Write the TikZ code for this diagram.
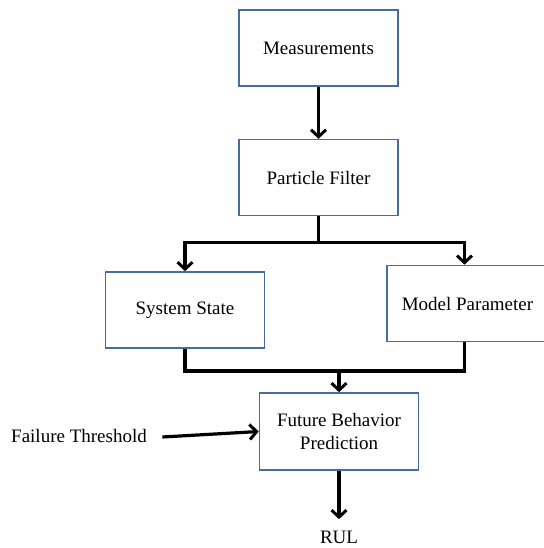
\documentclass[tikz,border=0pt]{standalone}
\usepackage{fontspec}
\setmainfont{Liberation Serif}
\usetikzlibrary{arrows.meta,positioning}
\definecolor{boxblue}{RGB}{72,108,160}

\begin{document}
\begin{tikzpicture}[x=1pt,y=-1pt,font=\fontsize{19}{22.5}\selectfont,node distance=52pt]
  \tikzstyle{block}=[draw=boxblue,line width=1.6pt,fill=white,minimum width=159pt,minimum height=76pt,align=center,inner sep=0pt]
  \tikzstyle{link}=[line width=3.2pt,black]
  \tikzstyle{arr}=[link,-{Straight Barb[length=7pt,width=15pt,line width=3pt]}]
  \useasboundingbox (0,0) rectangle (543,548);
  \node[block] (meas) at (318.5,48) {Measurements};
  \node[block,below=of meas] (pf) {Particle Filter};
  \node[block] (ss) at (185,310) {System State};
  \node[block,minimum width=161pt] (mp) at (467.5,303.5) {Model Parameter};
  \node[block,minimum height=77pt] (fbp) at (339,431.5) {Future Behavior\\Prediction};
  \node (ft) at (79,436) {Failure Threshold};
  \node (rul) at (339,537) {RUL};
  \coordinate (split) at ([yshift=-26pt]pf.south);
  \coordinate (join) at (fbp.north |- 0,371);
  \draw[arr] (meas) -- (pf);
  \draw[link] (pf.south) -- (split);
  \draw[arr] (split) -| (ss.north);
  \draw[arr] (split) -| ([xshift=-3pt]mp.north);
  \draw[link] (ss.south) |- (join) -| ([xshift=-3pt]mp.south);
  \draw[arr] (join) -- (fbp.north);
  \draw[arr] ([xshift=12pt,yshift=-1pt]ft.east) -- (fbp.west);
  \draw[arr] (fbp.south) -- ([yshift=8pt]rul.north);
\end{tikzpicture}
\end{document}
